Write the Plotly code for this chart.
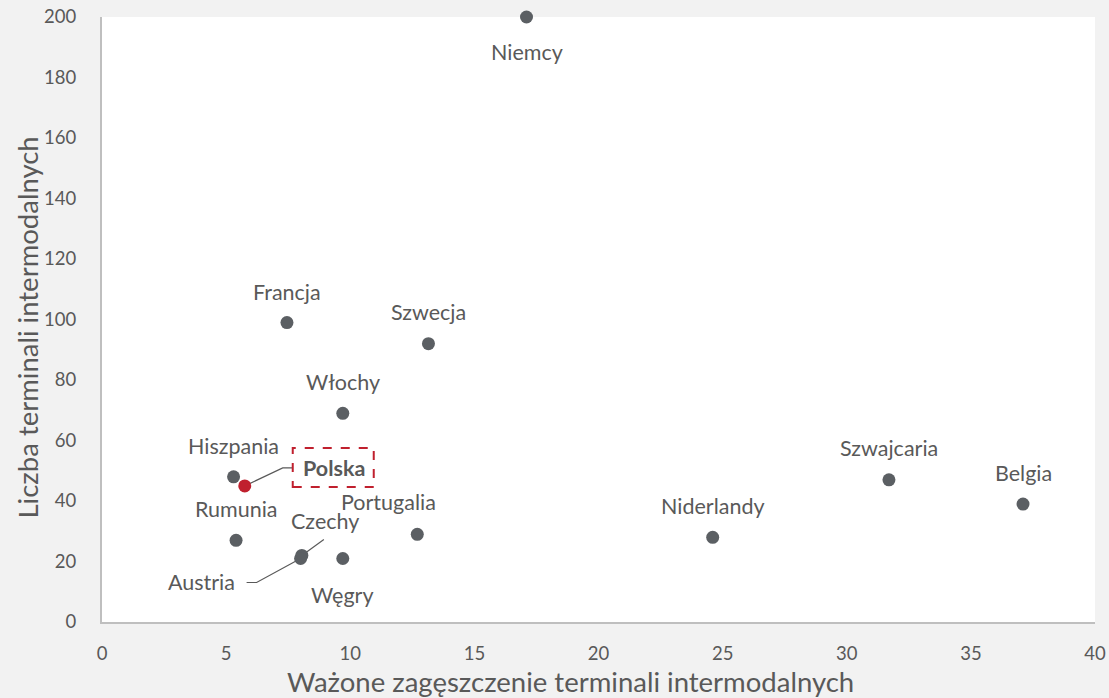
import plotly.graph_objects as go

# ---- data ----
countries = ["Niemcy", "Francja", "Szwecja", "Włochy", "Hiszpania", "Polska", "Rumunia",
             "Czechy", "Austria", "Węgry", "Portugalia", "Niderlandy", "Szwajcaria", "Belgia"]
density = [17.1, 7.45, 13.15, 9.7, 5.3, 5.75, 5.4, 8.05, 8.0, 9.7, 12.7, 24.6, 31.7, 37.1]
terminals = [200, 99, 92, 69, 48, 45, 27, 22, 21, 21, 29, 28, 47, 39]
x_ticks = [0, 5, 10, 15, 20, 25, 30, 35, 40]
y_ticks = [0, 20, 40, 60, 80, 100, 120, 140, 160, 180, 200]
x_title = "Ważone zagęszczenie terminali intermodalnych"
y_title = "Liczba terminali intermodalnych"
highlight = "Polska"

# ---- styling ----
W, H = 1109, 698
M = dict(l=102, r=14, t=17, b=76)
XR, YR = (0, 40), (0, 200)
PW = W - M["l"] - M["r"]
PH = H - M["t"] - M["b"]
PXX = PW / (XR[1] - XR[0])
PXY = PH / (YR[1] - YR[0])
GREY = "#595959"
MARK = "#5b5f63"
RED = "#c0202e"
FONT = "Lato"
LABEL_SIZE = 21.5
TITLE_SIZE = 27.5

# label offsets in pixels (dx right, dy up)
offsets = {
    "Niemcy": (0, -35), "Francja": (0, 31), "Szwecja": (0, 32), "Włochy": (0, 31),
    "Hiszpania": (0, 31), "Polska": (89, 18), "Rumunia": (0, 31), "Czechy": (23, 34),
    "Austria": (-99, -24), "Węgry": (0, -37), "Portugalia": (-29, 32),
    "Niderlandy": (0, 31), "Szwajcaria": (0, 32), "Belgia": (0, 31),
}


def dxy(x, y, dx, dy):
    return x + dx / PXX, y + dy / PXY


colors = [RED if c == highlight else MARK for c in countries]

fig = go.Figure()
fig.add_trace(go.Scatter(
    x=density, y=terminals, mode="markers",
    marker=dict(size=13, color=colors, line=dict(width=0)),
    cliponaxis=False, hoverinfo="text", text=countries, showlegend=False,
))

annotations = []
for c, x, y in zip(countries, density, terminals):
    dx, dy = offsets[c]
    txt = f"<b>{c}</b>" if c == highlight else c
    annotations.append(dict(
        x=x, y=y, xref="x", yref="y", text=txt, showarrow=False,
        xshift=dx, yshift=dy, font=dict(family=FONT, size=LABEL_SIZE, color=GREY),
    ))

# axis titles (positioned like the reference)
annotations.append(dict(
    text=x_title, xref="paper", yref="paper", x=(570 - M["l"]) / PW, y=-(681 - (H - M["b"])) / PH,
    xanchor="center", yanchor="middle", showarrow=False,
    font=dict(family=FONT, size=TITLE_SIZE, color=GREY),
))
annotations.append(dict(
    text=y_title, xref="paper", yref="paper", x=(27 - M["l"]) / PW, y=((H - M["b"]) - 327.5) / PH,
    xanchor="center", yanchor="middle", showarrow=False, textangle=-90,
    font=dict(family=FONT, size=TITLE_SIZE, color=GREY),
))

shapes = []
line_style = dict(color="#595959", width=1.2)
idx = {c: i for i, c in enumerate(countries)}

# Polska leader + dashed box
px_, py_ = density[idx["Polska"]], terminals[idx["Polska"]]
a = dxy(px_, py_, 0, 0)
b = dxy(px_, py_, 38, 18)
c_ = dxy(px_, py_, 48, 18)
shapes.append(dict(type="path", xref="x", yref="y",
                   path=f"M {a[0]},{a[1]} L {b[0]},{b[1]} L {c_[0]},{c_[1]}",
                   line=line_style, layer="below"))
b0 = dxy(px_, py_, 48, -1)
b1 = dxy(px_, py_, 129, 38)
shapes.append(dict(type="rect", xref="x", yref="y", x0=b0[0], y0=b0[1], x1=b1[0], y1=b1[1],
                   line=dict(color=RED, width=2, dash="dash"), fillcolor="rgba(0,0,0,0)"))

# Austria leader
ax_, ay_ = density[idx["Austria"]], terminals[idx["Austria"]]
p0 = dxy(ax_, ay_, -54, -24)
p1 = dxy(ax_, ay_, -44, -24)
p2 = dxy(ax_, ay_, 0, 0)
shapes.append(dict(type="path", xref="x", yref="y",
                   path=f"M {p0[0]},{p0[1]} L {p1[0]},{p1[1]} L {p2[0]},{p2[1]}",
                   line=line_style, layer="below"))

# Czechy leader
cx_, cy_ = density[idx["Czechy"]], terminals[idx["Czechy"]]
q0 = dxy(cx_, cy_, 22, 16)
q1 = dxy(cx_, cy_, 0, 0)
shapes.append(dict(type="line", xref="x", yref="y", x0=q0[0], y0=q0[1], x1=q1[0], y1=q1[1],
                   line=line_style, layer="below"))

fig.update_layout(
    width=W, height=H, margin=M,
    paper_bgcolor="#f2f2f2", plot_bgcolor="#ffffff",
    font=dict(family=FONT, size=18, color=GREY),
    annotations=annotations, shapes=shapes,
    xaxis=dict(range=list(XR), tickvals=x_ticks, showgrid=False, zeroline=False,
               showline=True, linecolor="#bfbfbf", linewidth=2, ticks="",
               ticklabelstandoff=14, tickfont=dict(size=18.5, color=GREY),
               automargin=False, fixedrange=True),
    yaxis=dict(range=list(YR), tickvals=y_ticks, showgrid=False, zeroline=False,
               showline=True, linecolor="#bfbfbf", linewidth=2, ticks="",
               ticklabelstandoff=20, tickfont=dict(size=18.5, color=GREY),
               automargin=False, fixedrange=True),
)

fig.write_html("out.html")
